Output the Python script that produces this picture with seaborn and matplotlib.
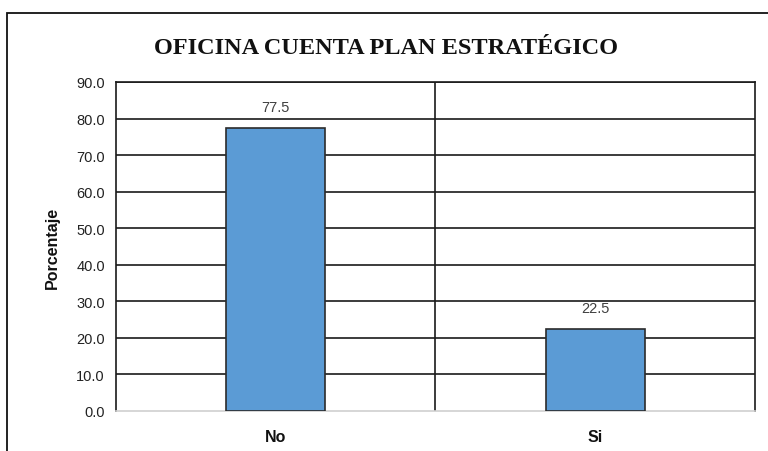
import matplotlib
matplotlib.use("Agg")
import matplotlib.pyplot as plt
import seaborn as sns
from matplotlib.patches import Rectangle

# data
categories = ["No", "Si"]
percentages = [77.5, 22.5]
yticks = [0, 10, 20, 30, 40, 50, 60, 70, 80, 90]

sns.set_style("white")
plt.rcParams["font.family"] = ["Liberation Sans", "DejaVu Sans"]

fig = plt.figure(figsize=(7.68, 4.52), dpi=100)
ax = fig.add_axes([0.151, 0.0885, 0.832, 0.728])

sns.barplot(x=categories, y=percentages, color="#5B9BD5", edgecolor="#2b2b2b",
            linewidth=1.2, width=0.31, saturation=1, ax=ax, zorder=3)

ax.set_ylim(0, 90)
ax.set_xlim(-0.5, 1.5)
ax.set_yticks(yticks)
ax.set_yticklabels([f"{v:.1f}" for v in yticks], fontsize=10.5, color="#222222")
ax.tick_params(axis="y", length=0, pad=8)
ax.tick_params(axis="x", length=0, pad=13)
ax.set_xticks(range(len(categories)))
ax.set_xticklabels(categories, fontsize=11.5, fontweight="bold", color="#111111")

# gridlines and separator
for v in yticks[1:]:
    ax.axhline(v, color="#1a1a1a", linewidth=1.2, zorder=1)
ax.axvline(0.5, color="#1a1a1a", linewidth=1.2, zorder=1)

for side in ["left", "right", "top"]:
    ax.spines[side].set_visible(True)
    ax.spines[side].set_color("#1a1a1a")
    ax.spines[side].set_linewidth(1.2)
ax.spines["bottom"].set_color("#d0d0d0")
ax.spines["bottom"].set_linewidth(1.2)

for i, v in enumerate(percentages):
    ax.annotate(f"{v:.1f}", (i, v), xytext=(0, 10), textcoords="offset points",
                ha="center", va="bottom", fontsize=10.5, color="#404040")

ax.set_ylabel("Porcentaje", fontsize=11.5, fontweight="bold", labelpad=12, color="#111111")
ax.set_xlabel("")

fig.text(0.502, 0.893, "OFICINA CUENTA PLAN ESTRATÉGICO", ha="center", va="center",
         fontsize=17.5, fontweight="bold", family="Liberation Serif", color="#111111")

# outer chart frame
fig.patches.append(Rectangle((0.009, -0.2), 1.2, 1.169, transform=fig.transFigure,
                             fill=False, edgecolor="#111111", linewidth=1.3))

fig.savefig("out.png", dpi=100)
